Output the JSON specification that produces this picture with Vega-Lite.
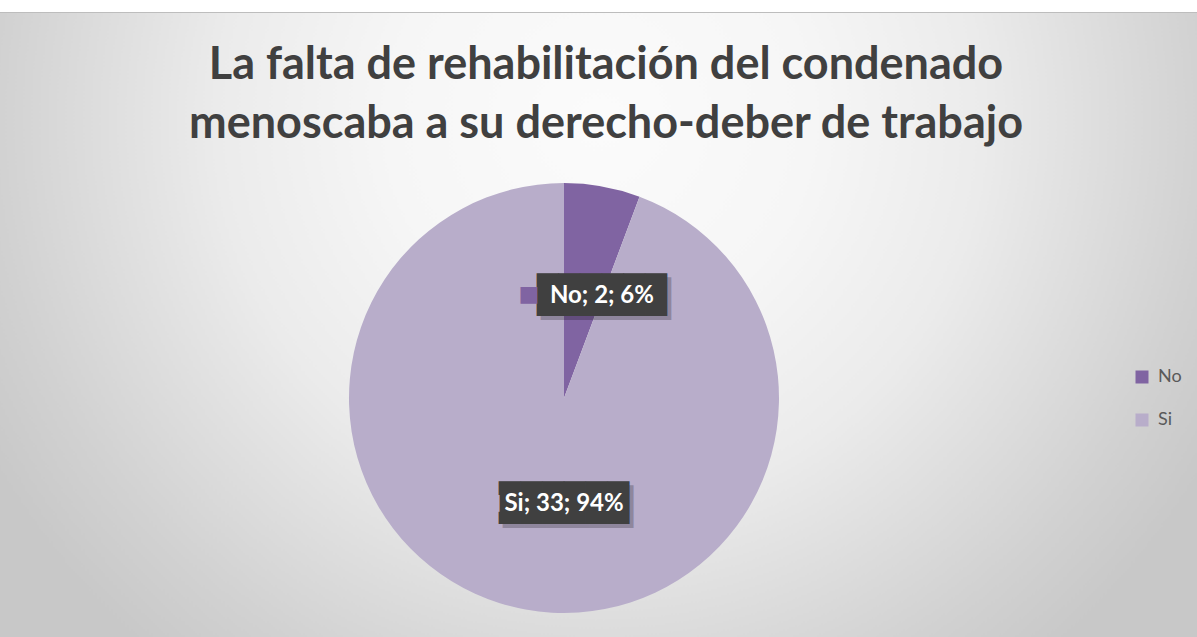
{
  "$schema": "https://vega.github.io/schema/vega-lite/v6.json",
  "width": 1266,
  "height": 772,
  "autosize": {"type": "none"},
  "padding": {"left": -69, "top": 12, "right": 0, "bottom": -147},
  "background": "white",
  "view": {
    "fill": {
      "gradient": "radial",
      "x1": 0.528, "y1": 0.28, "r1": 0,
      "x2": 0.528, "y2": 0.28, "r2": 0.55,
      "stops": [
        {"offset": 0, "color": "#fbfbfb"},
        {"offset": 0.3, "color": "#f6f6f6"},
        {"offset": 0.55, "color": "#ebebeb"},
        {"offset": 0.87, "color": "#d1d1d1"},
        {"offset": 1, "color": "#c8c8c8"}
      ]
    },
    "stroke": "#bdbdbd",
    "strokeWidth": 1
  },
  "title": {
    "text": ["La falta de rehabilitación del condenado", "menoscaba a su derecho-deber de trabajo"],
    "font": "Lato",
    "fontSize": 45,
    "fontWeight": "bold",
    "color": "#404040",
    "anchor": "middle",
    "frame": "group",
    "dx": 42,
    "offset": -171,
    "baseline": "alphabetic",
    "lineHeight": 59
  },
  "data": {
    "values": [
      {"respuesta": "No", "cantidad": 2, "etiqueta": "No; 2; 6%"},
      {"respuesta": "Si", "cantidad": 33, "etiqueta": "Si; 33; 94%"}
    ]
  },
  "encoding": {
    "theta": {"field": "cantidad", "type": "quantitative", "stack": true}
  },
  "layer": [
    {
      "mark": {"type": "arc", "outerRadius": 215},
      "encoding": {
        "color": {
          "field": "respuesta",
          "type": "nominal",
          "scale": {"domain": ["No", "Si"], "range": ["#8064a2", "#b8adca"]},
          "legend": {
            "orient": "none",
            "legendX": 1202,
            "legendY": 356,
            "title": null,
            "symbolType": "square",
            "symbolSize": 169,
            "symbolStrokeWidth": 0,
            "labelFont": "Lato",
            "labelFontSize": 18,
            "labelColor": "#595959",
            "rowPadding": 25,
            "labelOffset": 7,
            "padding": 0
          }
        }
      }
    },
    {
      "mark": {"type": "text", "radius": 106, "dx": 23, "dy": 6, "font": "DejaVu Sans Mono", "fontSize": 36, "color": "#000000", "opacity": 0.22, "text": "██████", "baseline": "middle", "align": "center"},
      "encoding": {"detail": {"field": "respuesta", "type": "nominal"}}
    },
    {
      "mark": {"type": "text", "radius": 106, "dx": 19, "dy": 2, "font": "DejaVu Sans Mono", "fontSize": 36, "color": "#404040", "text": "██████", "baseline": "middle", "align": "center"},
      "encoding": {"detail": {"field": "respuesta", "type": "nominal"}}
    },
    {
      "mark": {"type": "text", "radius": 106, "dx": -54, "dy": 0, "font": "DejaVu Sans", "fontSize": 22, "text": "■", "baseline": "middle", "align": "center"},
      "encoding": {"color": {"field": "respuesta", "type": "nominal"}}
    },
    {
      "mark": {"type": "text", "radius": 106, "dx": 19, "dy": 2, "font": "Lato", "fontSize": 24, "fontWeight": "bold", "color": "#ffffff", "baseline": "middle", "align": "center"},
      "encoding": {
        "detail": {"field": "respuesta", "type": "nominal"},
        "text": {"field": "etiqueta", "type": "nominal"}
      }
    }
  ]
}
